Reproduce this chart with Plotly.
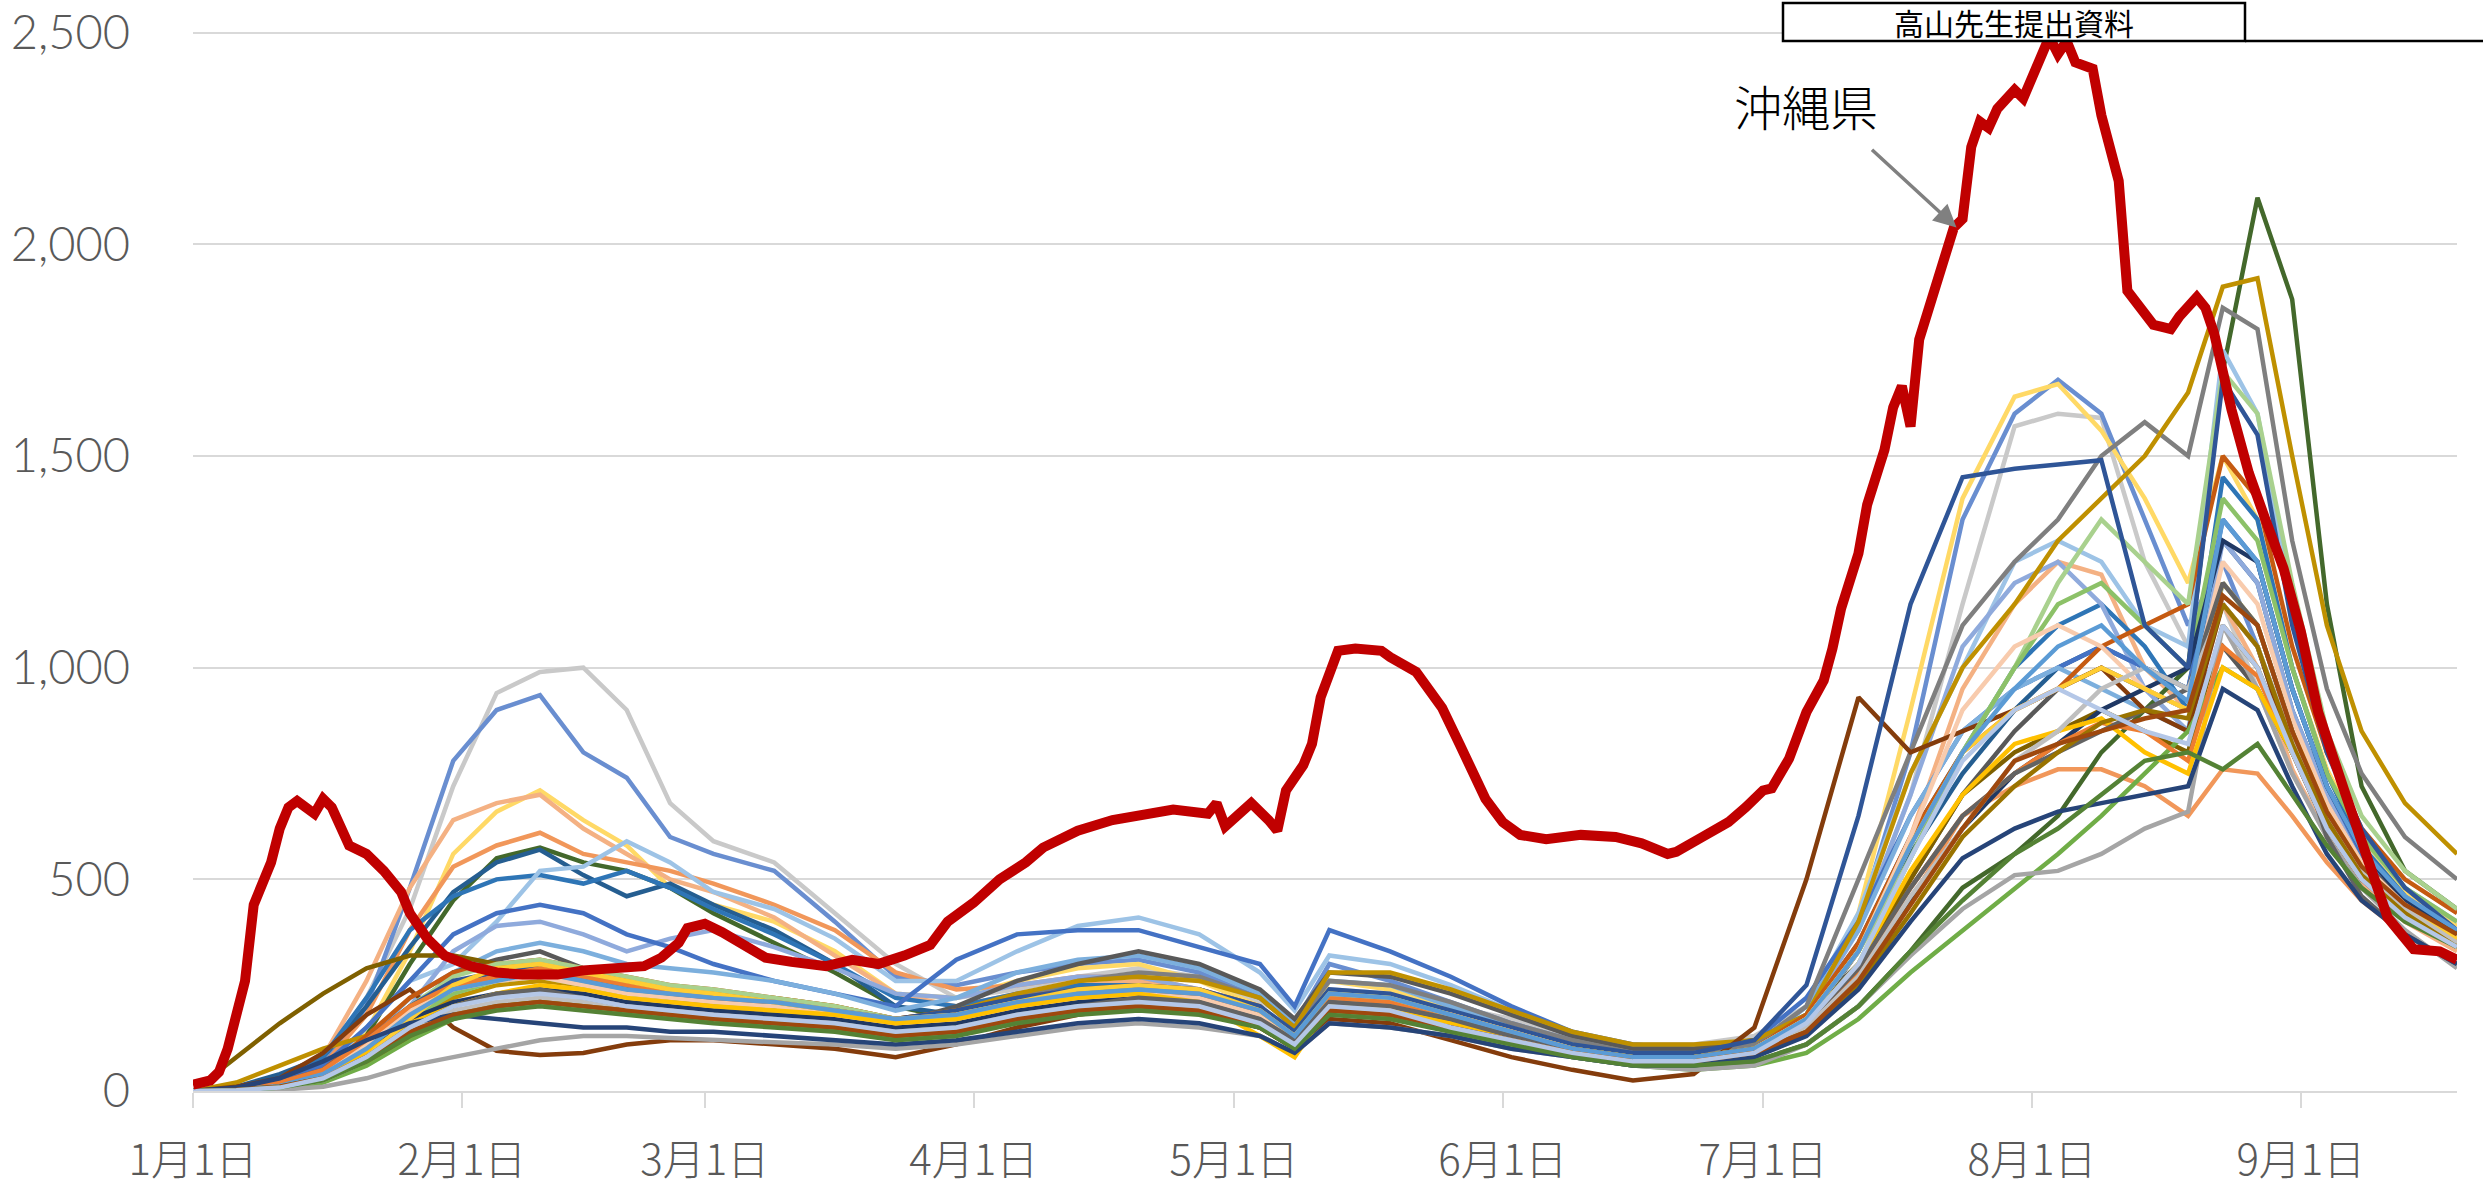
import pandas as pd
import plotly.graph_objects as go

# ---------------- data ----------------
start = pd.Timestamp("2021-01-01")
last_day = 261

grid_days = [0, 5, 10, 15, 20, 25, 30, 35, 40, 45, 50, 55, 60,
             67, 74, 81, 88, 95, 102, 109, 116, 123, 127, 131, 138, 145, 152, 159,
             166, 173, 180, 186, 192, 198, 204, 210, 215, 220, 225, 230, 234, 238, 242, 246, 250, 255, 261]

month_ticks = ["2021-01-01", "2021-02-01", "2021-03-01", "2021-04-01", "2021-05-01",
               "2021-06-01", "2021-07-01", "2021-08-01", "2021-09-01"]
month_labels = ["1月1日", "2月1日", "3月1日", "4月1日", "5月1日", "6月1日", "7月1日", "8月1日", "9月1日"]

y_ticks = [0, 500, 1000, 1500, 2000, 2500]
y_labels = ["0", "500", "1,000", "1,500", "2,000", "2,500"]

okinawa_days = [0, 2, 3, 4, 6, 7, 9, 10, 11, 12, 14, 15, 16, 17, 18, 20, 22, 24, 25, 27, 29, 32, 35, 38, 42,
                45, 49, 52, 54, 56, 57, 59, 61, 64, 66, 69, 73, 76, 79, 82, 85, 87, 90, 93, 96, 98, 102, 106,
                109, 113, 117, 118, 119, 121, 122, 124, 125, 126, 128, 129, 130, 132, 134, 137, 138, 141, 144,
                146, 148, 149, 151, 153, 156, 160, 164, 167, 170, 171, 174, 177, 179, 181, 182, 184, 186, 188,
                189, 190, 192, 193, 195, 196, 197, 198, 199, 201, 202, 203, 204, 205, 206, 207, 208, 210, 211,
                212, 213, 214, 215, 216, 217, 219, 220, 222, 223, 225, 226, 227, 228, 229, 231, 232, 233, 235,
                237, 239, 241, 243, 245, 248, 251, 253, 256, 259, 261]
okinawa_vals = [15, 25, 45, 100, 260, 440, 540, 620, 670, 685, 655, 690, 670, 630, 580, 560, 520, 470, 420, 360,
                320, 295, 280, 275, 275, 285, 290, 295, 315, 350, 385, 395, 375, 335, 315, 305, 295, 310, 300,
                320, 345, 400, 445, 500, 540, 575, 615, 640, 650, 665, 655, 680, 625, 665, 680, 640, 615, 710,
                770, 820, 930, 1040, 1045, 1040, 1025, 990, 905, 820, 735, 690, 635, 605, 595, 605, 600, 585,
                560, 565, 600, 635, 670, 710, 715, 785, 895, 970, 1045, 1140, 1270, 1385, 1515, 1615, 1665,
                1570, 1775, 1905, 1985, 2040, 2060, 2230, 2290, 2275, 2320, 2365, 2345, 2395, 2440, 2490, 2450,
                2480, 2430, 2415, 2305, 2150, 1890, 1840, 1810, 1805, 1800, 1830, 1875, 1850, 1790, 1610, 1460,
                1345, 1235, 1085, 895, 710, 540, 410, 335, 330, 310]

p01 = [0, 5, 20, 70, 220, 430, 720, 940, 990, 1000, 900, 680, 590] + \
      [540, 420, 300, 220, 240, 270, 290, 270, 210, 170, 240, 230, 200, 170, 130] + \
      [110, 110, 130, 200, 380, 700, 1150, 1570, 1600, 1590, 1250, 1050, 1150, 950, 750, 620, 520, 430, 360]
p02 = [0, 3, 15, 60, 200, 480, 780, 900, 935, 800, 740, 600, 560] + \
      [520, 400, 270, 250, 280, 300, 310, 280, 220, 160, 300, 260, 210, 160, 120] + \
      [90, 90, 110, 180, 400, 800, 1350, 1600, 1680, 1600, 1350, 1100, 1250, 1050, 800, 650, 540, 450, 380]
p03 = [0, 2, 10, 40, 140, 330, 560, 660, 710, 640, 580, 480, 440] + \
      [400, 330, 230, 220, 260, 290, 300, 260, 200, 120, 260, 240, 190, 150, 110] + \
      [80, 80, 100, 170, 420, 900, 1400, 1640, 1670, 1560, 1400, 1200, 1500, 1350, 1000, 760, 600, 470, 390]
p04 = [0, 5, 20, 80, 260, 480, 640, 680, 700, 620, 560, 500, 470] + \
      [410, 320, 230, 200, 230, 250, 260, 230, 180, 120, 230, 210, 170, 130, 100] + \
      [70, 70, 90, 160, 330, 600, 950, 1150, 1250, 1220, 1000, 900, 1150, 1000, 760, 600, 490, 400, 330]
p05 = [0, 5, 20, 60, 180, 380, 530, 580, 610, 560, 540, 520, 490] + \
      [440, 380, 280, 240, 250, 270, 270, 240, 190, 140, 230, 220, 180, 140, 100] + \
      [70, 60, 80, 140, 260, 450, 650, 720, 760, 760, 720, 650, 760, 750, 650, 540, 450, 370, 300]
p06 = [0, 3, 10, 40, 130, 300, 450, 550, 575, 540, 520, 480, 420] + \
      [350, 280, 200, 170, 200, 230, 230, 200, 150, 100, 200, 190, 160, 120, 80] + \
      [60, 55, 70, 110, 200, 330, 480, 560, 650, 800, 900, 1000, 1700, 2110, 1870, 1150, 720, 520, 430]
p07 = [0, 10, 40, 80, 200, 340, 470, 540, 570, 510, 460, 490, 440] + \
      [380, 300, 200, 180, 210, 220, 230, 210, 170, 110, 210, 200, 160, 120, 90] + \
      [70, 70, 90, 160, 330, 560, 750, 900, 1000, 1050, 1000, 950, 1300, 1200, 900, 700, 550, 440, 360]
p08 = [0, 5, 20, 80, 220, 380, 460, 500, 510, 490, 520, 480, 430] + \
      [370, 300, 220, 200, 230, 250, 250, 220, 170, 120, 220, 210, 170, 130, 100] + \
      [80, 80, 100, 180, 350, 600, 800, 1000, 1100, 1150, 1050, 900, 1450, 1350, 1000, 750, 580, 460, 370]
p09 = [0, 3, 10, 50, 150, 260, 300, 400, 520, 530, 590, 540, 470] + \
      [430, 360, 260, 260, 330, 390, 410, 370, 280, 190, 320, 300, 250, 190, 140] + \
      [100, 90, 110, 200, 420, 750, 1000, 1250, 1300, 1250, 1100, 1050, 1750, 1600, 1150, 800, 600, 480, 400]
p10 = [0, 3, 10, 40, 110, 200, 330, 390, 400, 370, 330, 360, 380] + \
      [340, 290, 230, 220, 250, 270, 270, 240, 190, 130, 230, 220, 180, 140, 100] + \
      [70, 70, 90, 180, 380, 700, 1050, 1200, 1250, 1150, 950, 850, 1300, 1200, 900, 700, 560, 460, 380]
p11 = [0, 5, 20, 60, 150, 260, 370, 420, 440, 420, 370, 340, 300] + \
      [260, 230, 200, 310, 370, 380, 380, 340, 300, 200, 380, 330, 270, 200, 140] + \
      [110, 100, 120, 220, 400, 650, 850, 950, 1000, 1050, 1000, 950, 1350, 1250, 950, 720, 560, 450, 370]
p12 = [0, 3, 10, 40, 120, 220, 280, 330, 350, 330, 300, 290, 280] + \
      [260, 230, 190, 220, 280, 310, 320, 290, 230, 160, 260, 250, 200, 150, 110] + \
      [80, 80, 100, 200, 380, 650, 850, 950, 1000, 950, 900, 850, 1200, 1100, 850, 650, 520, 420, 350]
p13 = [0, 3, 10, 30, 80, 180, 280, 310, 330, 290, 260, 220, 200] + \
      [190, 180, 160, 200, 260, 300, 330, 300, 240, 170, 280, 270, 230, 180, 130] + \
      [100, 100, 120, 180, 300, 500, 700, 850, 950, 1000, 950, 900, 1050, 950, 800, 650, 540, 450, 380]
p14 = [0, 5, 20, 50, 120, 200, 250, 260, 270, 250, 230, 220, 210] + \
      [200, 190, 170, 180, 220, 260, 280, 270, 220, 150, 260, 250, 210, 160, 120] + \
      [90, 90, 110, 200, 500, 800, 1100, 1250, 1350, 1500, 1580, 1500, 1850, 1800, 1300, 950, 750, 600, 500]
p15 = [0, 20, 60, 100, 130, 170, 220, 250, 260, 250, 240, 230, 230] + \
      [220, 200, 170, 190, 230, 260, 270, 260, 220, 150, 280, 280, 240, 190, 140] + \
      [110, 110, 120, 180, 400, 750, 1000, 1150, 1300, 1400, 1500, 1650, 1900, 1920, 1500, 1100, 850, 680, 560]
p16 = [0, 80, 160, 230, 290, 320, 320, 300, 290, 270, 240, 220, 210] + \
      [200, 180, 150, 150, 170, 190, 200, 190, 160, 110, 200, 190, 160, 120, 90] + \
      [70, 70, 80, 140, 280, 500, 700, 800, 850, 900, 850, 800, 1100, 1000, 800, 620, 500, 420, 350]
p17 = [0, 10, 30, 90, 180, 240, 150, 95, 85, 90, 110, 120, 120] + \
      [110, 100, 80, 110, 150, 180, 200, 190, 150, 100, 170, 160, 120, 80, 50] + \
      [25, 40, 150, 500, 930, 800, 850, 900, 950, 1000, 900, 850, 1150, 1050, 800, 620, 500, 410, 340]
p18 = [0, 5, 20, 50, 130, 220, 280, 300, 310, 290, 270, 250, 240] + \
      [220, 200, 170, 190, 220, 240, 250, 240, 200, 130, 230, 220, 180, 140, 100] + \
      [80, 80, 100, 180, 350, 600, 800, 900, 950, 1050, 1100, 1150, 1500, 1400, 1050, 800, 620, 500, 420]
p19 = [0, 0, 5, 20, 60, 120, 170, 200, 220, 210, 190, 180, 170] + \
      [160, 150, 130, 150, 180, 200, 210, 200, 170, 110, 200, 190, 160, 120, 90] + \
      [60, 50, 60, 90, 170, 280, 380, 480, 560, 650, 750, 850, 1000, 950, 800, 650, 530, 440, 370]
p20 = [0, 0, 3, 10, 30, 60, 80, 100, 120, 130, 130, 125, 120] + \
      [115, 110, 100, 110, 130, 150, 160, 150, 130, 90, 160, 150, 130, 100, 80] + \
      [60, 50, 60, 110, 200, 320, 430, 510, 520, 560, 620, 660, 1100, 950, 750, 600, 480, 380, 290]
p21 = [0, 2, 10, 40, 110, 200, 270, 300, 310, 290, 270, 250, 240] + \
      [220, 200, 170, 180, 210, 230, 240, 230, 190, 130, 230, 220, 180, 140, 100] + \
      [80, 80, 100, 170, 330, 550, 800, 1000, 1200, 1350, 1250, 1150, 1700, 1600, 1200, 850, 650, 520, 430]
p22 = [0, 2, 8, 30, 90, 170, 230, 260, 270, 250, 230, 220, 210] + \
      [190, 170, 150, 160, 190, 210, 220, 210, 170, 120, 210, 200, 170, 130, 90] + \
      [70, 70, 90, 160, 300, 550, 800, 1000, 1150, 1200, 1100, 1000, 1400, 1300, 1000, 750, 600, 480, 400]
p23 = [0, 3, 15, 40, 100, 170, 210, 230, 240, 230, 210, 200, 190] + \
      [180, 170, 150, 160, 190, 210, 220, 210, 170, 120, 210, 200, 170, 130, 100] + \
      [80, 80, 100, 160, 280, 450, 620, 750, 820, 900, 950, 1000, 1300, 1250, 950, 720, 570, 450, 370]
p24 = [0, 5, 20, 50, 120, 200, 260, 280, 290, 270, 250, 230, 220] + \
      [200, 190, 170, 190, 220, 240, 250, 240, 200, 140, 240, 230, 190, 150, 110] + \
      [90, 90, 120, 250, 650, 1150, 1450, 1470, 1480, 1490, 1100, 1000, 1680, 1550, 1100, 800, 620, 480, 380]
p25 = [0, 2, 10, 40, 110, 190, 240, 260, 270, 250, 230, 220, 210] + \
      [200, 180, 160, 170, 200, 220, 230, 220, 180, 130, 220, 210, 180, 140, 100] + \
      [80, 80, 100, 170, 330, 600, 900, 1050, 1100, 1050, 950, 900, 1250, 1150, 880, 680, 540, 440, 360]
p26 = [0, 5, 20, 50, 120, 200, 250, 270, 290, 270, 250, 230, 220] + \
      [210, 190, 170, 180, 210, 230, 240, 230, 190, 130, 220, 210, 180, 140, 100] + \
      [70, 70, 90, 150, 280, 480, 650, 750, 820, 870, 850, 780, 1050, 980, 800, 640, 520, 430, 350]
p27 = [0, 2, 10, 30, 90, 160, 200, 230, 250, 240, 220, 210, 200] + \
      [190, 180, 160, 170, 200, 220, 230, 210, 130, 80, 200, 190, 160, 130, 100] + \
      [80, 80, 100, 160, 300, 520, 700, 820, 850, 880, 800, 750, 1000, 950, 800, 640, 520, 420, 340]
p28 = [0, 2, 10, 30, 80, 170, 250, 290, 300, 280, 260, 240, 230] + \
      [210, 190, 170, 180, 210, 240, 250, 240, 190, 130, 230, 220, 180, 140, 100] + \
      [80, 80, 100, 170, 330, 580, 800, 900, 950, 1000, 950, 900, 1200, 1100, 850, 660, 530, 430, 360]
p29 = [0, 3, 10, 30, 80, 150, 200, 230, 240, 220, 200, 190, 180] + \
      [170, 160, 140, 150, 180, 200, 220, 210, 170, 120, 210, 200, 170, 130, 100] + \
      [80, 80, 100, 160, 290, 480, 650, 750, 800, 850, 900, 950, 1200, 1100, 850, 600, 460, 370, 300]
p30 = [0, 2, 8, 25, 70, 140, 190, 210, 220, 210, 190, 180, 170] + \
      [160, 150, 130, 140, 170, 190, 200, 190, 150, 110, 190, 180, 150, 120, 90] + \
      [70, 70, 90, 150, 270, 460, 620, 780, 850, 950, 1000, 950, 1150, 1050, 830, 650, 520, 430, 350]
p31 = [0, 3, 12, 40, 100, 180, 240, 260, 280, 260, 240, 230, 220] + \
      [210, 190, 170, 180, 210, 230, 240, 230, 190, 130, 230, 220, 180, 140, 100] + \
      [80, 80, 100, 170, 330, 580, 800, 950, 1050, 1100, 1000, 920, 1350, 1250, 950, 720, 570, 460, 380]
p32 = [0, 3, 10, 30, 70, 130, 180, 200, 210, 200, 190, 180, 170] + \
      [160, 150, 130, 140, 170, 190, 200, 190, 150, 110, 190, 180, 150, 120, 90] + \
      [70, 70, 90, 140, 250, 420, 600, 720, 800, 870, 900, 880, 1150, 1050, 820, 640, 510, 420, 340]
p33 = [0, 8, 30, 70, 120, 160, 180, 170, 160, 150, 150, 140, 140] + \
      [130, 120, 110, 120, 140, 160, 170, 160, 130, 90, 160, 150, 130, 100, 80] + \
      [60, 60, 80, 130, 240, 400, 550, 620, 660, 680, 700, 720, 950, 900, 720, 560, 450, 370, 300]
p34 = [0, 3, 10, 30, 80, 140, 180, 200, 210, 200, 190, 180, 170] + \
      [160, 150, 130, 140, 170, 190, 200, 190, 150, 110, 190, 180, 150, 120, 90] + \
      [70, 70, 90, 140, 260, 440, 620, 780, 820, 850, 880, 900, 1170, 1100, 850, 660, 530, 440, 370]
p35 = [0, 2, 8, 25, 70, 130, 170, 190, 200, 190, 180, 170, 160] + \
      [150, 140, 120, 130, 160, 180, 190, 180, 150, 100, 180, 170, 140, 110, 80] + \
      [60, 60, 70, 110, 200, 330, 450, 560, 620, 700, 780, 800, 760, 820, 700, 580, 480, 400, 340]
p36 = [0, 2, 8, 30, 80, 150, 200, 220, 230, 220, 200, 190, 180] + \
      [170, 160, 140, 150, 180, 200, 210, 200, 160, 110, 200, 190, 150, 120, 90] + \
      [70, 70, 90, 160, 300, 550, 780, 900, 950, 900, 850, 820, 1100, 1000, 800, 620, 500, 410, 340]

others = [p01, p02, p03, p04, p05, p06, p07, p08, p09, p10, p11, p12, p13, p14, p15, p16, p17, p18,
          p19, p20, p21, p22, p23, p24, p25, p26, p27, p28, p29, p30, p31, p32, p33, p34, p35, p36]
other_colors = ["#C9C9C9", "#698ED0", "#FFD966", "#F4B183", "#F1975A", "#43682B", "#255E91", "#2E75B6",
                "#9DC3E6", "#8FAADC", "#4472C4", "#7CAFDD", "#595959", "#7F7F7F", "#BF9000", "#7F6000",
                "#843C0C", "#C55A11", "#70AD47", "#A5A5A5", "#A9D18E", "#8CC168", "#1F3864", "#2F5597",
                "#F8CBAD", "#ED7D31", "#FFC000", "#FFCD33", "#636363", "#BFBFBF", "#5B9BD5", "#997300",
                "#264478", "#9E480E", "#548235", "#B4C7E7"]

for s in others:
    assert len(s) == len(grid_days), len(s)
assert len(okinawa_days) == len(okinawa_vals), (len(okinawa_days), len(okinawa_vals))

# ---------------- figure ----------------
W, H = 2483, 1189
Y_TOP = 2530
ML, MR, MB = 193, 26, 98
PX_PER_UNIT = (H - MB - 33) / 2500.0          # 2,500 gridline at y = 33 px
MT = int(round(H - MB - Y_TOP * PX_PER_UNIT))
PW, PH = W - ML - MR, H - MT - MB
FONT = "Noto Sans CJK JP, Noto Sans CJK SC, sans-serif"
NUM_FONT = "Lato, Noto Sans, sans-serif"


def px_x(p):
    return (p - ML) / PW


def px_y(p):
    return (H - MB - p) / PH


x_grid = [start + pd.Timedelta(days=d) for d in grid_days]
x_oki = [start + pd.Timedelta(days=d) for d in okinawa_days]

fig = go.Figure()
for vals, col in zip(others, other_colors):
    fig.add_trace(go.Scatter(x=x_grid, y=vals, mode="lines",
                             line=dict(color=col, width=4.5),
                             showlegend=False, hoverinfo="skip"))
fig.add_trace(go.Scatter(x=x_oki, y=okinawa_vals, mode="lines", name="沖縄県",
                         line=dict(color="#C00000", width=10),
                         showlegend=False))

fig.update_layout(
    width=W, height=H,
    margin=dict(l=ML, r=MR, t=MT, b=MB, pad=0, autoexpand=False),
    plot_bgcolor="white", paper_bgcolor="white",
    showlegend=False,
    font=dict(family=FONT, color="#595959"),
)
fig.update_xaxes(
    type="date", automargin=False,
    range=[start, start + pd.Timedelta(days=last_day)],
    tickvals=month_ticks, ticktext=month_labels,
    ticks="outside", ticklen=15, tickwidth=2, tickcolor="#D9D9D9",
    showgrid=False, zeroline=False,
    showline=True, linecolor="#D9D9D9", linewidth=2,
    tickfont=dict(family=FONT, size=42, color="#595959", weight=300),
    ticklabelstandoff=17, ticklabeloverflow="allow",
)
fig.update_yaxes(
    automargin=False,
    range=[0, Y_TOP],
    tickvals=y_ticks, ticktext=y_labels,
    showgrid=True, gridcolor="#D9D9D9", gridwidth=2,
    zeroline=False, showline=False, ticks="",
    tickfont=dict(family=NUM_FONT, size=47, color="#595959", weight=300),
    ticklabelstandoff=62, ticklabeloverflow="allow",
)

# title box, white header strip and line
fig.add_shape(type="rect", xref="paper", yref="paper",
              x0=px_x(2245), x1=px_x(W), y0=px_y(41), y1=px_y(0),
              line=dict(width=0), fillcolor="white", layer="above")
fig.add_shape(type="rect", xref="paper", yref="paper",
              x0=px_x(1783), x1=px_x(2245), y0=px_y(41), y1=px_y(3),
              line=dict(color="black", width=2.5), fillcolor="white", layer="above")
fig.add_shape(type="line", xref="paper", yref="paper",
              x0=px_x(2245), x1=px_x(W), y0=px_y(41), y1=px_y(41),
              line=dict(color="black", width=2.5), layer="above")
fig.add_annotation(xref="paper", yref="paper", x=px_x(2014), y=px_y(22),
                   text="高山先生提出資料", showarrow=False,
                   font=dict(family=FONT, size=30, color="black"),
                   xanchor="center", yanchor="middle")

# Okinawa label and arrow
fig.add_annotation(x=start + pd.Timedelta(days=186), y=2330, text="沖縄県", showarrow=False,
                   font=dict(family=FONT, size=48, color="black", weight=300),
                   xanchor="center", yanchor="middle")
fig.add_annotation(x=start + pd.Timedelta(days=203.3), y=2040, text="", showarrow=True,
                   ax=-86, ay=-79, arrowcolor="#808080", arrowwidth=3.5,
                   arrowhead=2, arrowsize=1.3, standoff=0)

fig.write_html("out.html", config={"displayModeBar": False},
               post_script="document.body.style.margin='0px';document.body.style.overflow='hidden';")
